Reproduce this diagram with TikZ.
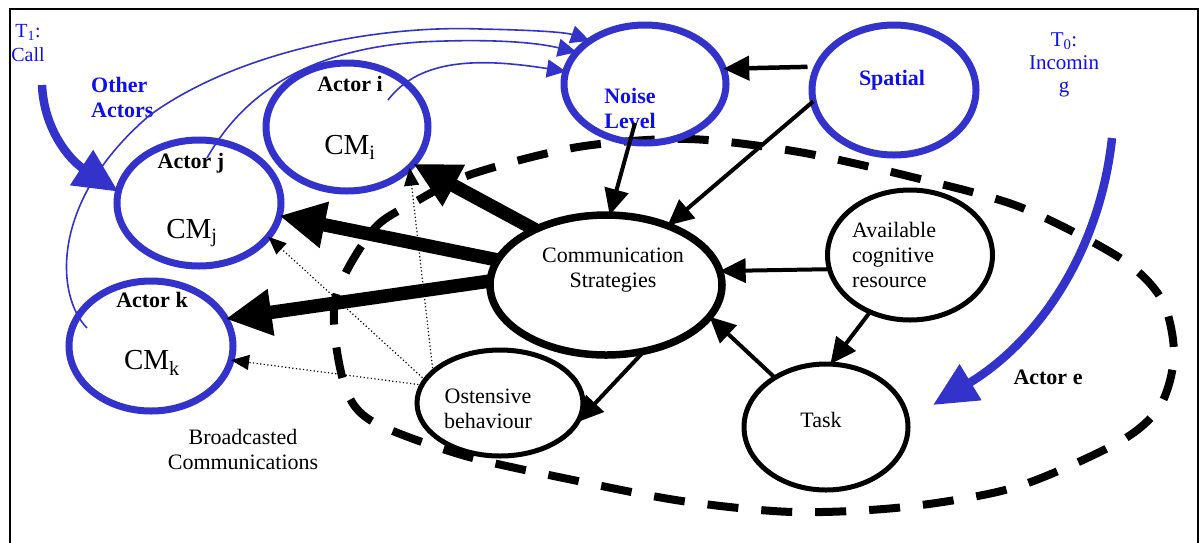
\documentclass[tikz,border=0pt]{standalone}
\usepackage{fontspec}
\setmainfont{Liberation Serif}
\usetikzlibrary{shapes.geometric,arrows.meta,calc}
\definecolor{ellblue}{RGB}{51,51,204}
\definecolor{txtblue}{RGB}{15,15,235}
\begin{document}
\begin{tikzpicture}[x=1pt,y=-1pt,
  blueell/.style={ellipse, draw=ellblue, line width=7pt, inner sep=0pt, outer sep=0pt},
  blackell/.style={ellipse, draw=black, line width=5pt, inner sep=0pt, outer sep=0pt},
  txt/.style={font=\fontsize{22}{25}\selectfont, align=center, inner sep=0pt},
  txtb/.style={font=\bfseries\fontsize{22}{25}\selectfont, align=center, inner sep=0pt},
  cmtxt/.style={font=\fontsize{29}{30}\selectfont, inner sep=0pt},
  thickarr/.style={line width=13.5pt, -{Triangle[length=46pt,width=44pt]}},
  medarr/.style={line width=4pt, -{Triangle[length=26pt,width=24pt]}},
  dotarr/.style={line width=1.2pt, dash pattern=on 1.2pt off 2.4pt, -{Triangle[length=18pt,width=15pt]}},
  bluethin/.style={draw=ellblue, line width=1.6pt, -{Triangle[length=19pt,width=18pt]}, fill=none},
  bluebig/.style={draw=ellblue, line width=8.5pt, -{Triangle[length=44pt,width=40pt]}},
  dashell/.style={line width=8pt, dash pattern=on 31pt off 23pt}
]
\useasboundingbox (0,0) rectangle (1199,542);
% frame
\draw[line width=2pt] (10,560) -- (10,9) -- (1198,9) -- (1198,560);

% dashed boundary
\draw[dashell] plot[smooth cycle] coordinates {
 (335,300) (373,230) (415,202) (472,174) (578,147) (688,139) (799,152)
 (912,177) (1020,207) (1120,258) (1162,300) (1174,355) (1160,406)
 (1119,442) (1016,487) (905,507) (793,512) (682,501) (573,480)
 (462,455) (370,420) (343,380)};

% ellipses
\node[blueell, minimum width=162pt, minimum height=118pt] (noise) at (645,84) {};
\node[blueell, minimum width=164pt, minimum height=130pt] (spatial) at (894,90) {};
\node[blueell, minimum width=162pt, minimum height=128pt] (actori) at (347,127) {};
\node[blueell, minimum width=164pt, minimum height=126pt] (actorj) at (199,203) {};
\node[blueell, minimum width=164pt, minimum height=130pt] (actork) at (151,346) {};
\node[blackell, line width=7.5pt, minimum width=232pt, minimum height=140pt] (cs) at (606,285) {};
\node[blackell, minimum width=165pt, minimum height=130pt] (acr) at (910,255) {};
\node[blackell, minimum width=164pt, minimum height=126pt] (task) at (826,427) {};
\node[blackell, minimum width=166pt, minimum height=106pt] (ost) at (500,403) {};

% texts
\node[txtb, text=txtblue] (noiset) at (630,108) {Noise\\Level};
\node[txtb, text=txtblue] (spatialt) at (892,80) {Spatial};
\node[txtb] (actorit) at (350,84) {Actor i};
\node[cmtxt] (cmi) at (350,147) {CM\textsubscript{i}};
\node[txtb] (actorjt) at (191,163) {Actor j};
\node[cmtxt] (cmj) at (192,233) {CM\textsubscript{j}};
\node[txtb] (actorkt) at (152,300) {Actor k};
\node[cmtxt] (cmk) at (152,363) {CM\textsubscript{k}};
\node[txt] (cst) at (613,270) {Communication\\Strategies};
\node[txt, align=left, anchor=west] (acrt) at (852,255) {Available\\cognitive\\resource};
\node[txt] (taskt) at (821,420) {Task};
\node[txt] (ostt) at (488,409) {Ostensive\\behaviour};
\node[txt, text=txtblue, font=\fontsize{20}{24}\selectfont] (t1) at (28,43) {T\textsubscript{1}:\\Call};
\node[txtb, text=txtblue, align=left, anchor=west] (other) at (91,97) {Other\\Actors};
\node[txt, text=txtblue, font=\fontsize{21}{23}\selectfont] (t0) at (1064,65) {T\textsubscript{0}:\\Incomin\\g};
\node[txtb] (actoret) at (1048,377) {Actor e};
\node[txt] (bc) at (243,449) {Broadcasted\\Communications};

% thick arrows
\draw[thickarr] (cs.142) -- (actori.-29);
\draw[thickarr] (cs.167) -- (actorj.-9);
\draw[thickarr] (cs.178) -- (actork.20);

% medium arrows
\draw[medarr] ($(noise.center)+(-10,39)$) -- (cs.87);
\draw[medarr, line width=4.5pt, shorten <=10pt] (spatial.163) -- (noise.11);
\draw[medarr] (spatial.188) -- (cs.44);
\draw[medarr] (acr.190) -- (cs.7);
\draw[medarr] (acr.235) -- (task.86);
\draw[medarr] (task.136) -- (cs.-17);
\draw[medarr] (cs.-60) -- (ost.-14);

% dotted arrows
\draw[dotarr] (ost.167) -- (actork.-10);
\draw[dotarr] (ost.163) -- (actorj.-26);
\draw[dotarr] (ost.155) -- (actori.-33);

% thin blue curves
\draw[bluethin] ($(actori.center)+(41,-27)$) .. controls (420,58) and (480,58) .. (noise.171);
\draw[bluethin] ($(actorj.center)+(8,-45)$) .. controls (240,100) and (300,50) .. (420,42) .. controls (480,39) and (530,41) .. (noise.155);
\draw[bluethin] ($(actork.center)+(-64,-18)$) .. controls (55,295) and (50,200) .. (150,115) .. controls (240,50) and (380,25) .. (480,29) .. controls (530,30) and (565,32) .. (noise.142);

% big blue arrows
\coordinate (t1s) at (42,85);
\draw[bluebig] (t1s) .. controls (44,130) and (70,160) .. (actorj.172);
\coordinate (es) at (1112,138);
\coordinate (ee) at (933,405);
\draw[bluebig] (es) .. controls (1100,250) and (1040,340) .. (ee);
\end{tikzpicture}
\end{document}
